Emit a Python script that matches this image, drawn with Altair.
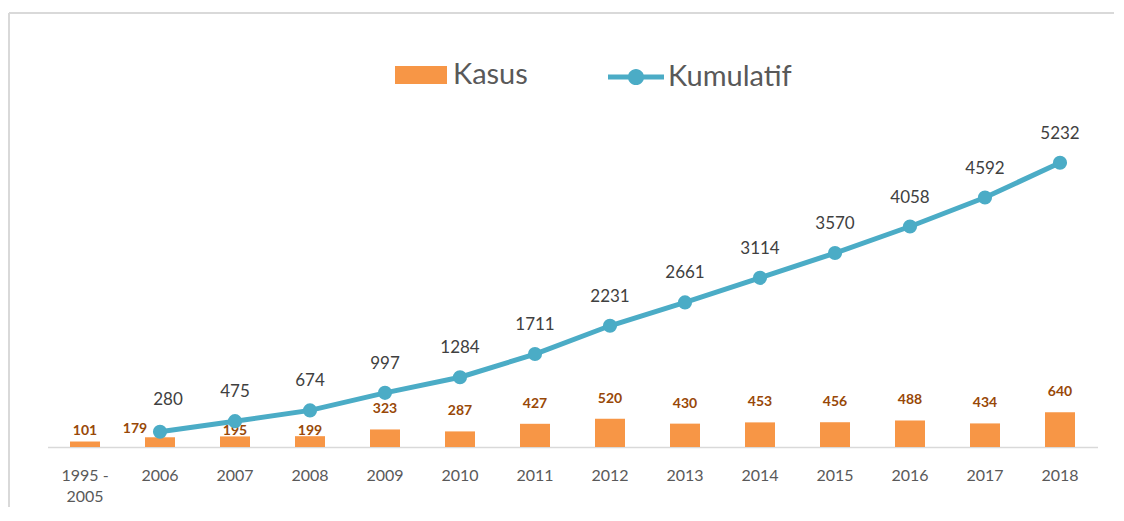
import altair as alt
import pandas as pd

categories = ["1995 - 2005", "2006", "2007", "2008", "2009", "2010", "2011",
              "2012", "2013", "2014", "2015", "2016", "2017", "2018"]
kasus = [101, 179, 195, 199, 323, 287, 427, 520, 430, 453, 456, 488, 434, 640]
kum_categories = categories[1:]
kumulatif = [280, 475, 674, 997, 1284, 1711, 2231, 2661, 3114, 3570, 4058, 4592, 5232]

ORANGE = "#F79646"
TEAL = "#4BACC6"
FONT = "Lato"

bars_df = pd.DataFrame({"cat": categories, "val": kasus, "series": "Kasus"})
line_df = pd.DataFrame({"cat": kum_categories, "val": kumulatif, "series": "Kumulatif"})

xenc = alt.X("cat:N", sort=categories, title=None,
             scale=alt.Scale(paddingInner=0.6, paddingOuter=0.3),
             axis=alt.Axis(labelAngle=0, ticks=False, domainColor="#D9D9D9",
                           domainWidth=1.5, labelFont=FONT, labelFontSize=16,
                           labelColor="#595959", labelPadding=20, labelLineHeight=21,
                           labelExpr="split(replace(datum.label, ' - ', ' -|'), '|')"))
yscale = alt.Scale(domain=[0, 6000], nice=False)
yenc = alt.Y("val:Q", scale=yscale, axis=None)
xsimple = alt.X("cat:N", sort=categories)

rect_path = "M-1,-0.35H1V0.35H-1Z"
line_dot_path = ("M-1,-0.09H1V0.09H-1Z "
                 "M-0.29,0A0.29,0.29 0 1,1 0.29,0A0.29,0.29 0 1,1 -0.29,0Z")

bars = alt.Chart(bars_df).mark_bar(color=ORANGE).encode(
    x=xenc, y=yenc,
    color=alt.Color("series:N", scale=alt.Scale(domain=["Kasus"], range=[ORANGE]),
                    legend=alt.Legend(title=None, orient="none", legendX=347.5, legendY=-72,
                                      symbolType=rect_path, symbolSize=2704,
                                      symbolStrokeWidth=0, labelFont=FONT,
                                      labelFontSize=29, labelColor="#595959",
                                      labelOffset=6, padding=0))
)

bar_label_style = dict(font=FONT, fontSize=14, fontWeight="bold", color="#984807",
                       baseline="middle")
# regular bars: label above the bar
bar_text_big = alt.Chart(bars_df).transform_filter("datum.val >= 250").mark_text(
    dy=-20, **bar_label_style
).encode(x=xsimple, y=alt.Y("val:Q", scale=yscale), text="val:Q")
# small bars: labels sit at a fixed height just above the axis (as in the reference)
bar_text_small = alt.Chart(bars_df).transform_filter(
    "datum.val < 250 && datum.cat != '2006'").mark_text(
    dy=-16, **bar_label_style
).encode(x=xsimple, y=alt.datum(0, scale=yscale), text="val:Q")
bar_text_2006 = alt.Chart(bars_df).transform_filter("datum.cat == '2006'").mark_text(
    dy=-18, dx=-25, **bar_label_style
).encode(x=xsimple, y=alt.datum(0, scale=yscale), text="val:Q")

line = alt.Chart(line_df).mark_line(color=TEAL, strokeWidth=5).encode(
    x=xsimple, y=alt.Y("val:Q", scale=yscale)
)

points = alt.Chart(line_df).mark_point(filled=True, size=200, opacity=1).encode(
    x=xsimple, y=alt.Y("val:Q", scale=yscale),
    color=alt.Color("series:N", scale=alt.Scale(domain=["Kumulatif"], range=[TEAL]),
                    legend=alt.Legend(title=None, orient="none", legendX=560.5, legendY=-72,
                                      symbolType=line_dot_path, symbolSize=3136,
                                      symbolStrokeWidth=0, symbolOpacity=1,
                                      labelFont=FONT, labelFontSize=29,
                                      labelColor="#595959", labelOffset=4, padding=0))
)

line_label_style = dict(font=FONT, fontSize=17, color="#404040", baseline="middle")
line_text = alt.Chart(line_df).transform_filter("datum.cat != '2006'").mark_text(
    dy=-29, **line_label_style
).encode(x=xsimple, y=alt.Y("val:Q", scale=yscale), text="val:Q")
line_text_2006 = alt.Chart(line_df).transform_filter("datum.cat == '2006'").mark_text(
    dy=-32, dx=8, **line_label_style
).encode(x=xsimple, y=alt.Y("val:Q", scale=yscale), text="val:Q")

frame_v = alt.Chart(alt.Data(values=[{}])).mark_rule(color="#D9D9D9", strokeWidth=2).encode(
    x=alt.value(-38.5), y=alt.value(-108), y2=alt.value(420))
frame_h = alt.Chart(alt.Data(values=[{}])).mark_rule(color="#D9D9D9", strokeWidth=2).encode(
    x=alt.value(-38.5), x2=alt.value(1070), y=alt.value(-108))

chart = alt.layer(frame_v, frame_h, bars, bar_text_big, bar_text_small, bar_text_2006,
                  line, points, line_text, line_text_2006).resolve_scale(
    color="independent"
).properties(
    width=1050, height=326, autosize="none", background="white",
    padding={"left": 39.5, "top": 113, "right": 16, "bottom": 60}
).configure_view(stroke=None)

chart.save("out.html", embed_options={"renderer": "svg", "actions": False})
